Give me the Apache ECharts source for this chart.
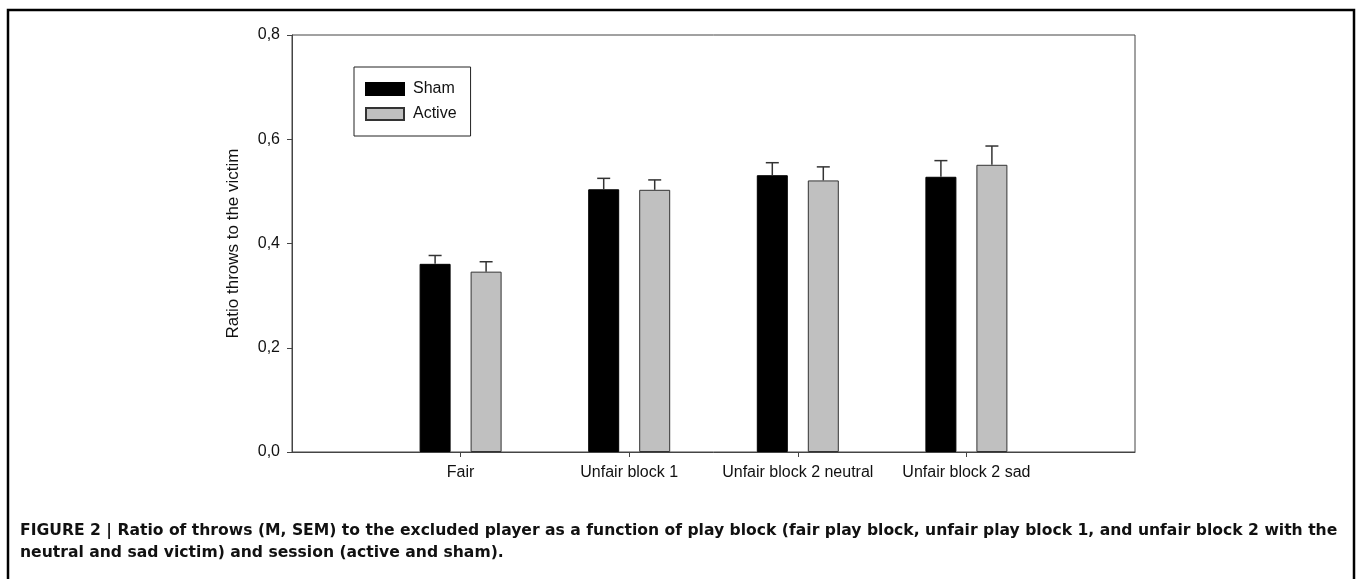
<!DOCTYPE html>
<html>
<head>
<meta charset="utf-8">
<script src="https://cdn.jsdelivr.net/npm/echarts@6/dist/echarts.min.js"></script>
<style>
  html, body { margin: 0; padding: 0; background: #fff; }
  #chart { width: 1357px; height: 579px; }
</style>
</head>
<body>
<div id="chart"></div>
<script>
// categories (empty slots at both ends give the spacing of the original)
var categories = ['', 'Fair', 'Unfair block 1', 'Unfair block 2 neutral', 'Unfair block 2 sad', ''];
// means
var shamMean = ['-', 0.361, 0.504, 0.531, 0.528, '-'];
var activeMean = ['-', 0.346, 0.503, 0.521, 0.551, '-'];
// SEM (upper error bars only)
var shamSem = [0, 0.016, 0.021, 0.024, 0.031, 0];
var activeSem = [0, 0.019, 0.019, 0.026, 0.036, 0];
var yTicks = [0, 0.2, 0.4, 0.6, 0.8];

var BAR_W = 31;
var BAR_GAP = 20;
var HALF = (BAR_W + BAR_GAP) / 2;

function errData(mean, sem, side) {
	var out = [];
	for (var i = 0; i < mean.length; i++) {
		if (mean[i] === '-') continue;
		out.push([i, mean[i], mean[i] + sem[i], side]);
	}
	return out;
}

function renderErr(params, api) {
	var base = api.coord([api.value(0), api.value(1)]);
	var top = api.coord([api.value(0), api.value(2)]);
	var x = base[0] + api.value(3) * HALF;
	var style = { stroke: '#333', lineWidth: 1.5 };
	return {
		type: 'group',
		children: [
			{ type: 'line', shape: { x1: x, y1: base[1], x2: x, y2: top[1] }, style: style },
			{ type: 'line', shape: { x1: x - 6.5, y1: top[1], x2: x + 6.5, y2: top[1] }, style: style }
		]
	};
}

var chart = echarts.init(document.getElementById('chart'));
chart.setOption({
	animation: false,
	backgroundColor: '#fff',
	grid: {
		left: 292, right: 222, top: 35, bottom: 127,
		show: true, borderColor: '#444', borderWidth: 1
	},
	legend: {
		left: 354, top: 67,
		orient: 'vertical',
		data: ['Sham', 'Active'],
		icon: 'rect',
		itemWidth: 38, itemHeight: 12, itemGap: 9,
		padding: [14, 14, 14, 11],
		borderColor: '#222', borderWidth: 1,
		textStyle: { fontFamily: 'Liberation Sans', fontSize: 16, lineHeight: 12, color: '#111', padding: [0, 0, 0, 4] }
	},
	xAxis: {
		type: 'category',
		data: categories,
		boundaryGap: false,
		axisLine: { lineStyle: { color: '#444', width: 1 } },
		axisTick: {
			show: true, length: 5, inside: false,
			interval: function (idx, val) { return val !== ''; },
			lineStyle: { color: '#444' }
		},
		axisLabel: {
			interval: 0, margin: 13,
			fontFamily: 'Liberation Sans', fontSize: 16, color: '#111'
		},
		splitLine: { show: false }
	},
	yAxis: {
		type: 'value',
		min: yTicks[0], max: yTicks[yTicks.length - 1], interval: 0.2,
		name: 'Ratio throws to the victim',
		nameLocation: 'middle',
		nameGap: 50,
		nameTextStyle: { fontFamily: 'Liberation Sans', fontSize: 17, color: '#111' },
		axisLine: { show: true, lineStyle: { color: '#444', width: 1 } },
		axisTick: { show: true, length: 5, inside: false, lineStyle: { color: '#444' } },
		axisLabel: {
			margin: 12,
			fontFamily: 'Liberation Sans', fontSize: 16, color: '#111',
			formatter: function (v) { return v.toFixed(1).replace('.', ','); }
		},
		splitLine: { show: false }
	},
	series: [
		{
			name: 'Sham', type: 'bar', data: shamMean,
			barWidth: BAR_W, barGap: (BAR_GAP / BAR_W * 100) + '%',
			itemStyle: { color: '#000', borderColor: '#000', borderWidth: 1 }
		},
		{
			name: 'Active', type: 'bar', data: activeMean,
			barWidth: BAR_W,
			itemStyle: { color: '#c0c0c0', borderColor: '#333', borderWidth: 1 }
		},
		{
			type: 'custom', renderItem: renderErr, data: errData(shamMean, shamSem, -1),
			encode: { x: 0, y: 2 }, z: 3, silent: true
		},
		{
			type: 'custom', renderItem: renderErr, data: errData(activeMean, activeSem, 1),
			encode: { x: 0, y: 2 }, z: 3, silent: true
		}
	],
	graphic: [
		{
			type: 'rect', silent: true,
			shape: { x: 8, y: 10, width: 1346, height: 600 },
			style: { fill: null, stroke: '#000', lineWidth: 2.5 }
		},
		{
			type: 'text', left: 20, top: 520, silent: true,
			style: {
				text: 'FIGURE 2 | Ratio of throws (M, SEM) to the excluded player as a function of play block (fair play block, unfair play block 1, and unfair block 2 with the\nneutral and sad victim) and session (active and sham).',
				fontFamily: 'DejaVu Sans', fontWeight: 'bold', fontSize: 15.6, lineHeight: 22, fill: '#111'
			}
		}
	]
});
</script>
</body>
</html>
